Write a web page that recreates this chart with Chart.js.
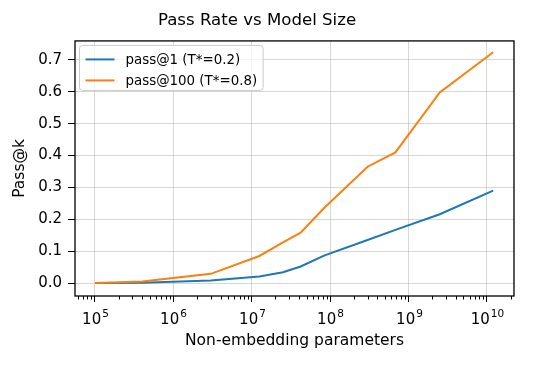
<!DOCTYPE html>
<html>
<head>
<meta charset="utf-8">
<script src="https://cdn.jsdelivr.net/npm/chart.js@4/dist/chart.umd.min.js"></script>
<style>
  html, body { margin: 0; padding: 0; background: #fff; }
  #wrap { width: 560px; height: 366px; }
</style>
</head>
<body>
<div id="wrap"><canvas id="chartPass" width="560" height="366"></canvas></div>
<script>
// dados
const params = [1e5, 4e5, 3e6, 1.25e7, 2.5e7, 4.2e7, 8.5e7, 3e8, 6.8e8, 2.5e9, 1.2e10];
const pass1 = [0, 0.001, 0.008, 0.021, 0.034, 0.052, 0.087, 0.135, 0.167, 0.216, 0.29];
const pass100 = [0, 0.005, 0.029, 0.085, 0.128, 0.158, 0.237, 0.365, 0.41, 0.598, 0.724];
const yTicks = [0, 0.1, 0.2, 0.3, 0.4, 0.5, 0.6, 0.7];
const labels = ['pass@1 (T*=0.2)', 'pass@100 (T*=0.8)'];

const FONT = "'DejaVu Sans', sans-serif";

function toPoints(xs, ys) {
    return xs.map((x, i) => ({ x: x, y: ys[i] }));
}

// moldura, ticks menores, rotulos 10^n e legenda dentro do grafico
const extras = {
    id: 'extras',
    afterDraw(chart) {
        const ctx = chart.ctx;
        const ca = chart.chartArea;
        const xs = chart.scales.x;

        ctx.save();
        ctx.strokeStyle = '#000';
        ctx.lineWidth = 1;
        xs.ticks.forEach(t => {
            const px = Math.round(xs.getPixelForValue(t.value)) + 0.5;
            if (!t.major) {
                // tick menor
                ctx.beginPath();
                ctx.moveTo(px, ca.bottom);
                ctx.lineTo(px, ca.bottom + 3.5);
                ctx.stroke();
                return;
            }
            // rotulo 10 com expoente
            const e = String(Math.round(Math.log10(t.value)));
            ctx.font = '15px ' + FONT;
            const wb = ctx.measureText('10').width;
            ctx.font = '10.5px ' + FONT;
            const we = ctx.measureText(e).width;
            const x0 = px - (wb + we + 1) / 2;
            ctx.fillStyle = '#000';
            ctx.textBaseline = 'alphabetic';
            ctx.textAlign = 'left';
            ctx.font = '15px ' + FONT;
            ctx.fillText('10', x0, ca.bottom + 28);
            ctx.font = '10.5px ' + FONT;
            ctx.fillText(e, x0 + wb + 1, ca.bottom + 21);
        });

        // moldura
        ctx.lineWidth = 1.3;
        ctx.strokeRect(ca.left, ca.top, ca.right - ca.left, ca.bottom - ca.top);

        // legenda
        ctx.font = '13.4px ' + FONT;
        const ds = chart.data.datasets;
        let w = 0;
        ds.forEach(d => { w = Math.max(w, ctx.measureText(d.label).width); });
        const bx = ca.left + 4.5, by = ca.top + 4.5;
        const bw = w + 52, bh = 45;
        ctx.fillStyle = 'rgba(255,255,255,0.8)';
        ctx.strokeStyle = '#cccccc';
        ctx.lineWidth = 1;
        ctx.beginPath();
        ctx.roundRect(bx, by, bw, bh, 3);
        ctx.fill();
        ctx.stroke();
        ds.forEach((d, i) => {
            const cy = by + 14 + i * 21;
            ctx.strokeStyle = d.borderColor;
            ctx.lineWidth = 2;
            ctx.beginPath();
            ctx.moveTo(bx + 6, cy);
            ctx.lineTo(bx + 35, cy);
            ctx.stroke();
            ctx.fillStyle = '#000';
            ctx.textBaseline = 'middle';
            ctx.fillText(d.label, bx + 46, cy + 1);
        });
        ctx.restore();
    }
};

const ctxLine = document.getElementById('chartPass').getContext('2d');
const chart = new Chart(ctxLine, {
    type: 'line',
    data: {
        datasets: [
            {
                label: labels[0],
                data: toPoints(params, pass1),
                borderColor: '#1f77b4',
                backgroundColor: '#1f77b4',
                borderWidth: 2,
                pointRadius: 0,
                tension: 0,
                order: 1
            },
            {
                label: labels[1],
                data: toPoints(params, pass100),
                borderColor: '#ff7f0e',
                backgroundColor: '#ff7f0e',
                borderWidth: 2,
                pointRadius: 0,
                tension: 0,
                order: 0
            }
        ]
    },
    options: {
        responsive: false,
        animation: false,
        layout: { padding: { left: 0, right: 46, top: 0, bottom: 0 } },
        scales: {
            x: {
                type: 'logarithmic',
                min: Math.pow(10, 4.745),
                max: Math.pow(10, 10.345),
                afterBuildTicks(scale) {
                    const ticks = [];
                    for (let e = 4; e <= 10; e++) {
                        for (let s = 1; s <= 9; s++) {
                            const v = s * Math.pow(10, e);
                            if (v >= scale.min && v <= scale.max) ticks.push({ value: v, major: s === 1 });
                        }
                    }
                    scale.ticks = ticks;
                },
                afterFit(scale) { scale.height = 70; },
                border: { display: false },
                grid: {
                    color: c => (c.tick && c.tick.major ? 'rgba(176,176,176,0.5)' : 'transparent'),
                    tickColor: c => (c.tick && c.tick.major ? '#000' : 'transparent'),
                    tickLength: 6,
                    lineWidth: 1
                },
                ticks: {
                    autoSkip: false,
                    maxRotation: 0,
                    padding: 5,
                    font: { family: FONT, size: 15 },
                    callback: () => ''
                },
                title: {
                    display: true,
                    text: 'Non-embedding parameters',
                    color: '#000',
                    font: { family: FONT, size: 15.5 },
                    padding: { top: 4, bottom: 15.5 }
                }
            },
            y: {
                min: -0.0405,
                max: 0.7596,
                afterBuildTicks(scale) {
                    scale.ticks = yTicks.map(v => ({ value: v }));
                },
                afterFit(scale) { scale.width = 75; },
                border: { display: false },
                grid: {
                    color: 'rgba(176,176,176,0.5)',
                    tickColor: '#000',
                    tickLength: 7,
                    lineWidth: 1
                },
                ticks: {
                    padding: 6,
                    color: '#000',
                    font: { family: FONT, size: 15 },
                    callback: v => v.toFixed(1)
                },
                title: {
                    display: true,
                    text: 'Pass@k',
                    color: '#000',
                    font: { family: FONT, size: 15.5 },
                    padding: { top: 10.5, bottom: 4 }
                }
            }
        },
        plugins: {
            legend: { display: false },
            tooltip: { enabled: false },
            title: {
                display: true,
                text: 'Pass Rate vs Model Size',
                color: '#000',
                font: { family: FONT, size: 16.6, weight: 'normal' },
                padding: { top: 11, bottom: 10 }
            }
        }
    },
    plugins: [extras]
});
</script>
</body>
</html>
